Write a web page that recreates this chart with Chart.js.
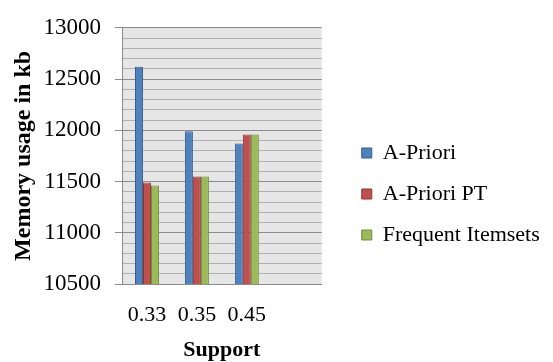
<!DOCTYPE html>
<html>
<head>
<meta charset="utf-8">
<script src="https://cdn.jsdelivr.net/npm/chart.js@4"></script>
<style>
  html, body { margin: 0; padding: 0; background: #ffffff; }
  #wrap { width: 553px; height: 362px; position: relative; }
</style>
</head>
<body>
<div id="wrap"><canvas id="chart" width="553" height="362"></canvas></div>
<script>
// Support thresholds (last slot left empty on the axis)
const supports = ['0.33', '0.35', '0.45', ''];

// Memory usage in kb for each algorithm
const aPriori = [12620, 11990, 11870, null];
const aPrioriPT = [11490, 11550, 11960, null];
const frequentItemsets = [11460, 11550, 11960, null];

// Y axis range and spacing
const yMin = 10500;
const yMax = 13000;
const minorStep = 100;
const majorStep = 500;

const FONT = "'Liberation Serif', 'Times New Roman', serif";
const isMajor = v => v % majorStep === 0;

// Light gray wall behind the bars
const plotBackground = {
  id: 'plotBackground',
  beforeDraw(chart) {
    const { ctx, chartArea: a } = chart;
    ctx.save();
    ctx.fillStyle = '#e6e6e6';
    ctx.fillRect(a.left, a.top, a.right - a.left, a.bottom - a.top);
    ctx.restore();
  }
};

// Move the legend block into the wide right margin and let it use
// the full remaining width so the labels are not clipped
const legendOffset = {
  id: 'legendOffset',
  afterLayout(chart) {
    const lg = chart.legend;
    if (!lg) return;
    const dx = 21, dy = 13;
    lg.left += dx;
    lg.right = chart.width;
    lg.width = lg.right - lg.left;
    lg.top += dy; lg.bottom += dy;
  }
};

new Chart(document.getElementById('chart'), {
  type: 'bar',
  data: {
    labels: supports,
    datasets: [
      { label: 'A-Priori', data: aPriori, backgroundColor: '#4f81bd', borderColor: '#385d8a', borderWidth: 1 },
      { label: 'A-Priori PT', data: aPrioriPT, backgroundColor: '#c0504d', borderColor: '#8c3836', borderWidth: 1 },
      { label: 'Frequent Itemsets', data: frequentItemsets, backgroundColor: '#9bbb59', borderColor: '#71893f', borderWidth: 1 }
    ]
  },
  options: {
    responsive: false,
    animation: false,
    events: [],
    layout: { padding: { top: 0, right: 124, bottom: 0, left: 0 } },
    datasets: { bar: { categoryPercentage: 0.48, barPercentage: 1.0 } },
    plugins: {
      tooltip: { enabled: false },
      legend: {
        position: 'right',
        align: 'center',
        labels: {
          boxWidth: 10,
          boxHeight: 10,
          padding: 19,
          color: '#000000',
          font: { family: FONT, size: 22 }
        }
      }
    },
    scales: {
      x: {
        offset: true,
        grid: { display: false, drawTicks: false },
        border: { display: true, color: '#8c8c8c', width: 1 },
        ticks: {
          color: '#000000',
          padding: 18,
          maxRotation: 0,
          autoSkip: false,
          font: { family: FONT, size: 22 }
        },
        title: {
          display: true,
          text: 'Support',
          color: '#000000',
          padding: { top: 0, bottom: 0 },
          font: { family: FONT, size: 22, weight: 'bold', lineHeight: 1.1 }
        },
        afterFit(scale) { scale.height = 78; }
      },
      y: {
        min: yMin,
        max: yMax,
        grid: {
          color: ctx => isMajor(ctx.tick.value) ? '#8c8c8c' : '#b0b0b0',
          tickColor: ctx => isMajor(ctx.tick.value) ? '#8c8c8c' : 'rgba(0,0,0,0)',
          lineWidth: 1,
          tickLength: 7
        },
        border: { display: true, color: '#8c8c8c', width: 1 },
        ticks: {
          stepSize: minorStep,
          autoSkip: false,
          padding: 14,
          color: '#000000',
          font: { family: FONT, size: 23 },
          callback: v => isMajor(v) ? String(v) : ''
        },
        title: {
          display: true,
          text: 'Memory usage in kb',
          color: '#000000',
          padding: { top: 9, bottom: 0 },
          font: { family: FONT, size: 24, weight: 'bold' }
        },
        afterFit(scale) { scale.width = 122; }
      }
    }
  },
  plugins: [plotBackground, legendOffset]
});
</script>
</body>
</html>
